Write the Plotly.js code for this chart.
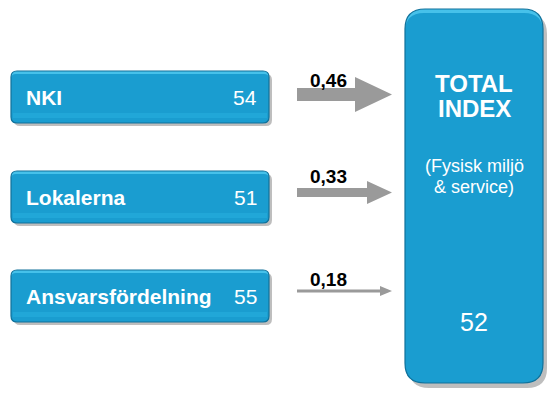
<!DOCTYPE html>
<html>
<head>
<meta charset="utf-8">
<script src="https://cdn.plot.ly/plotly-3.0.1.min.js"></script>
<style>html,body{margin:0;padding:0;background:#fff}#chart{width:550px;height:394px}</style>
</head>
<body>
<div id="chart"></div>
<script>
// ---- data ----
var categories = ['NKI', 'Lokalerna', 'Ansvarsfördelning'];
var values = [54, 51, 55];
var weights = [0.46, 0.33, 0.18];
var weightLabels = ['0,46', '0,33', '0,18'];
var totalTitle = ['TOTAL', 'INDEX'];
var totalSubtitle = ['(Fysisk miljö', '& service)'];
var totalValue = 52;

// ---- layout / styles ----
var boxX0 = 11, boxX1 = 269, boxH = 52;
var boxCenters = [97, 197, 296];
var arrowCenters = [94.5, 192.5, 291];
var arrowStyle = [
  {h: 6.5, H: 17.5, L: 37},
  {h: 4.5, H: 11.5, L: 25},
  {h: 1.5, H: 5, L: 12}
];
var arrowX0 = 297, arrowTip = 392;
var labelY = [80, 176, 279];
var total = {x0: 405, x1: 543, y0: 9, y1: 383, r: 20};

var FILL = '#1a9dd0', LIGHT = '#46c1ea', EDGE = '#11719a', BAND = '#21a7d8';
var FONT = 'Liberation Sans, Arial, sans-serif';

function rrect(x0, y0, x1, y1, r) {
  return 'M' + (x0 + r) + ',' + y0 + ' L' + (x1 - r) + ',' + y0 +
    ' Q' + x1 + ',' + y0 + ' ' + x1 + ',' + (y0 + r) +
    ' L' + x1 + ',' + (y1 - r) + ' Q' + x1 + ',' + y1 + ' ' + (x1 - r) + ',' + y1 +
    ' L' + (x0 + r) + ',' + y1 + ' Q' + x0 + ',' + y1 + ' ' + x0 + ',' + (y1 - r) +
    ' L' + x0 + ',' + (y0 + r) + ' Q' + x0 + ',' + y0 + ' ' + (x0 + r) + ',' + y0 + ' Z';
}
function shape(path, fill, line, lw, opacity) {
  return {type: 'path', xref: 'x', yref: 'y', path: path, fillcolor: fill,
    line: {color: line || 'rgba(0,0,0,0)', width: lw || 0}, opacity: opacity == null ? 1 : opacity, layer: 'above'};
}

var shapes = [];
var annotations = [];

// left boxes
categories.forEach(function (c, i) {
  var yc = boxCenters[i], y0 = yc - boxH / 2, y1 = yc + boxH / 2;
  shapes.push(shape(rrect(boxX0 + 3, y0 + 3, boxX1 + 3, y1 + 3, 6), '#6e6e6e', null, 0, 0.45));
  shapes.push(shape(rrect(boxX0, y0, boxX1, y1, 6), LIGHT));
  shapes.push(shape(rrect(boxX0, y0 + 3, boxX1, y1, 5), FILL));
  shapes.push(shape('M' + (boxX0 + 2) + ',' + (y1 - 10) + ' L' + (boxX1 - 2) + ',' + (y1 - 10) + ' L' + (boxX1 - 2) + ',' + (y1 - 5) + ' L' + (boxX0 + 2) + ',' + (y1 - 5) + ' Z', BAND));
  shapes.push(shape(rrect(boxX0, y0, boxX1, y1, 6), 'rgba(0,0,0,0)', EDGE, 1.2));
  annotations.push({x: 24, y: yc, xref: 'x', yref: 'y', text: '<b>' + c + '</b>', showarrow: false,
    xanchor: 'left', yanchor: 'middle', font: {family: FONT, size: 21, color: '#ffffff'}});
  annotations.push({x: 259, y: yc, xref: 'x', yref: 'y', text: String(values[i]), showarrow: false,
    xanchor: 'right', yanchor: 'middle', font: {family: FONT, size: 21, color: '#ffffff'}});
});

// arrows
weights.forEach(function (w, i) {
  var s = arrowStyle[i], yc = arrowCenters[i], hx = arrowTip - s.L;
  var p = 'M' + arrowX0 + ',' + (yc - s.h) + ' L' + hx + ',' + (yc - s.h) + ' L' + hx + ',' + (yc - s.H) +
    ' L' + arrowTip + ',' + yc + ' L' + hx + ',' + (yc + s.H) + ' L' + hx + ',' + (yc + s.h) +
    ' L' + arrowX0 + ',' + (yc + s.h) + ' Z';
  shapes.push(shape(p, '#9a9a9a'));
  annotations.push({x: 328, y: labelY[i], xref: 'x', yref: 'y', text: '<b>' + weightLabels[i] + '</b>', showarrow: false,
    xanchor: 'center', yanchor: 'middle', font: {family: FONT, size: 19, color: '#000000'}});
});

// total box
shapes.push(shape(rrect(total.x0 + 4, total.y0 + 5, total.x1 + 4, total.y1 + 5, total.r), '#6e6e6e', null, 0, 0.45));
shapes.push(shape(rrect(total.x0, total.y0, total.x1, total.y1, total.r), LIGHT));
shapes.push(shape(rrect(total.x0, total.y0 + 4, total.x1, total.y1, total.r - 1), FILL));
shapes.push(shape(rrect(total.x0, total.y0, total.x1, total.y1, total.r), 'rgba(0,0,0,0)', EDGE, 1.2));

var tc = (total.x0 + total.x1) / 2;
[83, 108].forEach(function (y, i) {
  annotations.push({x: tc, y: y, xref: 'x', yref: 'y', text: '<b>' + totalTitle[i] + '</b>', showarrow: false,
    xanchor: 'center', yanchor: 'middle', font: {family: FONT, size: 24, color: '#ffffff'}});
});
[166, 187].forEach(function (y, i) {
  annotations.push({x: tc, y: y, xref: 'x', yref: 'y', text: totalSubtitle[i], showarrow: false,
    xanchor: 'center', yanchor: 'middle', font: {family: FONT, size: 18, color: '#ffffff'}});
});
annotations.push({x: tc, y: 322, xref: 'x', yref: 'y', text: String(totalValue), showarrow: false,
  xanchor: 'center', yanchor: 'middle', font: {family: FONT, size: 25, color: '#ffffff'}});

var layout = {
  width: 550, height: 394,
  margin: {l: 0, r: 0, t: 0, b: 0},
  paper_bgcolor: '#ffffff', plot_bgcolor: '#ffffff',
  xaxis: {range: [0, 550], visible: false, fixedrange: true},
  yaxis: {range: [394, 0], visible: false, fixedrange: true},
  showlegend: false,
  shapes: shapes,
  annotations: annotations
};

Plotly.newPlot('chart', [{x: [], y: [], type: 'scatter', mode: 'markers', hoverinfo: 'skip'}], layout, {staticPlot: true, displayModeBar: false});
</script>
</body>
</html>
